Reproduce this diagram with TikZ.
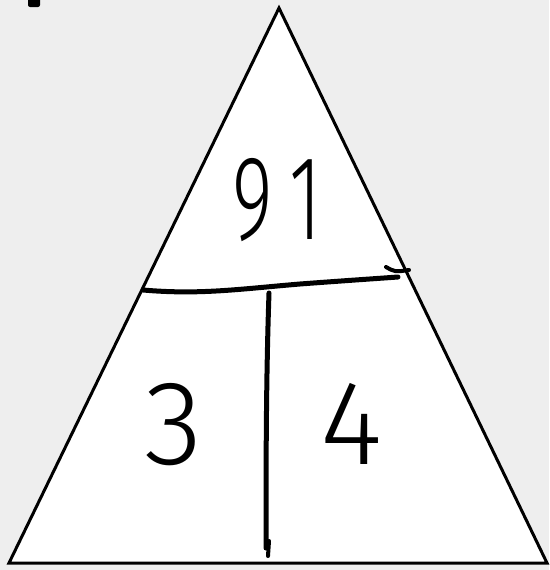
\documentclass[tikz,border=0pt]{standalone}
\usepackage{fontspec}
\usepackage{tikz}
\usetikzlibrary{calc}
\newfontfamily\handfont{Fira Sans Light}
\definecolor{PaperGray}{RGB}{238,238,238}

\begin{document}
\begin{tikzpicture}[x=1pt, y=-1pt,
  pen/.style={line width=5pt, line cap=round, line join=round, black},
  edge/.style={line width=3pt, line join=miter, black},
  digit/.style={inner sep=0pt, font=\handfont\fontsize{120}{120}\selectfont},
]
\fill[PaperGray] (0,0) rectangle (549,570);
\useasboundingbox (0,0) rectangle (549,570);
\fill[black, rounded corners=2pt] (28,-3) rectangle (40,7);

\coordinate (apex)  at (279,8);
\coordinate (left)  at (9,563);
\coordinate (right) at (547,563);
\filldraw[edge, fill=white] (apex) -- (left) -- (right) -- cycle;

\coordinate (hstart) at (143,290);
\coordinate (hend)   at (398,277);
\coordinate (hookA)  at (386,267);
\coordinate (hookB)  at (409,270);
\coordinate (vtop)   at (269,293);
\coordinate (vbot)   at (266,548);
\coordinate (tickA)  at (269,541);
\coordinate (tickB)  at (268,556);

\draw[pen] (hstart) .. controls (200,295) and (240,289) .. (300,284)
                    .. controls (340,281) and (370,279) .. (hend);
\draw[pen, line width=4pt] (hookA) .. controls (395,272) .. (hookB);
\draw[pen] (vtop) .. controls (266,380) and (266,470) .. (vbot);
\draw[pen, line width=4pt] (tickA) -- (tickB);

\node[digit] (total)  at (277,200) {\scalebox{0.65}[1]{9}\hspace{16pt}\scalebox{0.65}[1]{1}};
\node[digit] (factA)  at (174,425) {3};
\node[digit] (factB)  at (352,424) {4};
\end{tikzpicture}
\end{document}
